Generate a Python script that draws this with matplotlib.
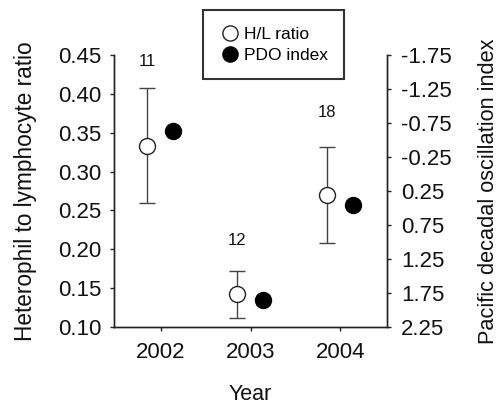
import matplotlib
matplotlib.use("Agg")
import matplotlib.pyplot as plt
import numpy as np

plt.rcParams['font.family'] = ['Liberation Sans', 'DejaVu Sans']

years = [2002, 2003, 2004]
hl_ratio = [0.333, 0.142, 0.270]
hl_err = [0.074, 0.030, 0.062]
pdo_index = [-0.63, 1.85, 0.45]
sample_n = ["11", "12", "18"]
n_label_y = [0.442, 0.211, 0.376]

left_ticks = [0.10, 0.15, 0.20, 0.25, 0.30, 0.35, 0.40, 0.45]
right_ticks = [-1.75, -1.25, -0.75, -0.25, 0.25, 0.75, 1.25, 1.75, 2.25]

fig = plt.figure(figsize=(5.01, 4.07), dpi=100)
ax = fig.add_axes([0.2275, 0.1966, 0.545, 0.6683])
ax2 = ax.twinx()

x = np.array(years, dtype=float)
off_l, off_r = -0.15, 0.14

ax.errorbar(x + off_l, hl_ratio, yerr=hl_err, fmt='none', ecolor='#444444',
            elinewidth=1.0, capsize=6, capthick=1.0, zorder=2)
h1, = ax.plot(x + off_l, hl_ratio, 'o', ms=11.5, mfc='white', mec='#222222',
              mew=1.0, linestyle='none', zorder=3, label='H/L ratio')
h2, = ax2.plot(x + off_r, pdo_index, 'o', ms=11.5, mfc='black', mec='black',
               linestyle='none', zorder=3, label='PDO index')

for xi, yi, t in zip(x + off_l, n_label_y, sample_n):
    ax.text(xi, yi, t, ha='center', va='center', fontsize=12, color='#111111')

ax.set_xlim(2001.48, 2004.52)
ax.set_ylim(0.10, 0.45)
ax.set_yticks(left_ticks)
ax.set_yticklabels([f"{v:.2f}" for v in left_ticks])
ax.set_xticks(years)
ax.set_xticklabels([str(y) for y in years])

ax2.set_ylim(2.25, -1.75)
ax2.set_yticks(right_ticks)
ax2.set_yticklabels([f"{v:.2f}" for v in right_ticks])

for a in (ax, ax2):
    a.spines['top'].set_visible(False)
    for s in a.spines.values():
        s.set_linewidth(1.0)
        s.set_color('#222222')
    a.tick_params(direction='out', length=3, width=1.0, labelsize=16,
                  colors='#222222', pad=6, labelcolor='#111111')
ax.tick_params(axis='x', pad=8)
ax2.tick_params(axis='y', pad=7)

ax.set_ylabel('Heterophil to lymphocyte ratio', fontsize=16.3, labelpad=15,
              color='#111111')
ax2.set_ylabel('Pacific decadal oscillation index', fontsize=15.7, labelpad=19,
               color='#111111')
ax.set_xlabel('Year', fontsize=15.5, labelpad=15, color='#111111')

leg = fig.legend(handles=[h1, h2], loc='upper left',
                 bbox_to_anchor=(203/501, 1 - 10/407), fontsize=12.5,
                 fancybox=False, frameon=True, edgecolor='black',
                 handletextpad=0.2, borderpad=0.95, labelspacing=0.35,
                 handlelength=1.2, borderaxespad=0, markerscale=0.95)
leg.get_frame().set_linewidth(1.5)

fig.savefig('out.png', dpi=100)
